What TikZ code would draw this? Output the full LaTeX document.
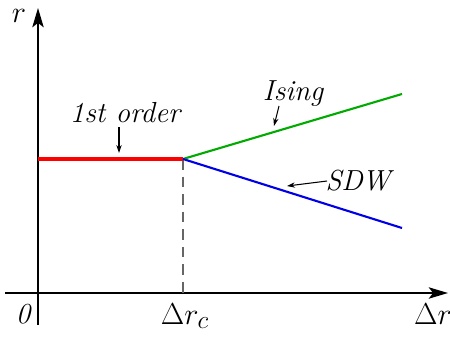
\documentclass[tikz,border=0pt]{standalone}
\usepackage{tikz}
\usetikzlibrary{arrows.meta,positioning}
\definecolor{firstred}{RGB}{255,0,0}
\definecolor{isinggreen}{RGB}{0,170,0}
\definecolor{sdwblue}{RGB}{0,0,230}

\begin{document}
\begin{tikzpicture}[x=0.02cm,y=-0.02cm,
  ax/.style={black,line width=0.85pt,-{Stealth[length=11pt,width=6.5pt,inset=2.5pt]}},
  lbl/.style={font=\fontsize{16.5}{19}\selectfont\itshape,inner sep=0pt,anchor=base},
  mlbl/.style={lbl,font=\fontsize{19}{22}\selectfont},
  pt/.style={black,line width=0.6pt,-{Stealth[length=4.5pt,width=3pt]}},
  ph/.style={line width=1.2pt}]
\useasboundingbox (0,0) rectangle (450,338);
% ---------- axes ----------
\coordinate (xs) at (5,293);
\coordinate (xe) at (448,293);
\coordinate (ys) at (38,325);
\coordinate (ye) at (38,8);
\draw[ax] (xs) -- (xe);
\draw[ax] (ys) -- (ye);
\node[mlbl] (rlab) at (19,22) {$r$};
\node[lbl] (zero) at (23,323) {0};
\node[mlbl] (drc) at (185,324) {$\Delta r_{c}$};
\node[mlbl] (dr) at (433,324) {$\Delta r$};
% ---------- phase lines ----------
\coordinate (a) at (38,159);
\coordinate (c) at (183,159);
\coordinate (cb) at (183,293);
\coordinate (g) at (402,94);
\coordinate (b) at (402,228);
\draw[gray!80!black,line width=0.8pt,dash pattern=on 6pt off 4pt] (c) -- (cb);
\draw[firstred,line width=2pt] (a) -- (c);
\draw[ph,isinggreen] (c) -- (g);
\draw[ph,sdwblue] (c) -- (b);
% ---------- labels ----------
\node[lbl] (fo) at (125,122) {1st order};
\node[lbl] (is) at (293,100) {Ising};
\node[lbl] (sd) at (358,190) {SDW};
\coordinate (fo1) at (119,127);
\coordinate (fo2) at (119,153);
\coordinate (is1) at (279,106);
\coordinate (is2) at (274,126);
\coordinate (sd1) at (327,181);
\coordinate (sd2) at (287,186);
\draw[pt] (fo1) -- (fo2);
\draw[pt] (is1) -- (is2);
\draw[pt] (sd1) -- (sd2);
\end{tikzpicture}
\end{document}
